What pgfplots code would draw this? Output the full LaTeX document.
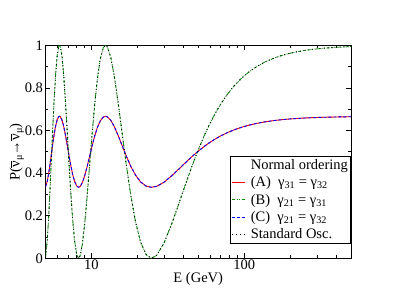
\documentclass[border=0pt]{standalone}
\usepackage{fontspec}
\setmainfont{Liberation Serif}
\usepackage{pgfplots}
\usepackage{pgfplotstable}
\pgfplotsset{compat=1.18}
\definecolor{cgreen}{RGB}{0,150,0}
\pgfplotstableread{
E P D
5.000 0.0088 0.3363
5.026 0.0179 0.3393
5.139 0.0896 0.3632
5.243 0.1924 0.3975
5.352 0.3225 0.4408
5.465 0.4686 0.4895
5.583 0.6175 0.5392
5.706 0.7559 0.5853
5.835 0.8714 0.6238
5.969 0.9538 0.6513
6.110 0.9955 0.6652
6.175 1.0000 0.6667
6.258 0.9931 0.6644
6.413 0.9466 0.6489
6.576 0.8602 0.6201
6.748 0.7416 0.5805
6.929 0.6015 0.5338
7.119 0.4523 0.4841
7.321 0.3073 0.4358
7.534 0.1796 0.3932
7.760 0.0805 0.3602
8.000 0.0188 0.3396
8.234 0.0000 0.3333
8.435 0.0126 0.3375
8.719 0.0673 0.3558
9.023 0.1607 0.3869
9.349 0.2843 0.4281
9.700 0.4272 0.4757
10.078 0.5767 0.5256
10.486 0.7193 0.5731
10.930 0.8423 0.6141
11.412 0.9347 0.6449
11.938 0.9883 0.6628
12.350 1.0000 0.6667
12.721 0.9916 0.6639
13.379 0.9427 0.6476
14.109 0.8543 0.6181
14.923 0.7342 0.5781
15.837 0.5932 0.5311
16.870 0.4439 0.4813
18.047 0.2996 0.4332
19.400 0.1732 0.3911
20.973 0.0759 0.3586
22.824 0.0166 0.3389
24.701 0.0000 0.3333
26.759 0.0145 0.3382
29.846 0.0716 0.3572
33.739 0.1669 0.3890
38.800 0.2919 0.4306
41.946 0.3622 0.4541
45.647 0.4356 0.4785
50.065 0.5104 0.5035
55.429 0.5850 0.5283
59.692 0.6337 0.5446
64.667 0.6812 0.5604
70.545 0.7268 0.5756
77.600 0.7702 0.5901
86.222 0.8108 0.6036
97.000 0.8484 0.6161
107.78 0.8759 0.6253
121.25 0.9011 0.6337
136.14 0.9209 0.6403
155.20 0.9388 0.6463
172.44 0.9502 0.6501
194.00 0.9605 0.6535
215.56 0.9679 0.6560
242.50 0.9746 0.6582
277.14 0.9805 0.6602
323.33 0.9857 0.6619
388.00 0.9900 0.6633
500.00 0.9940 0.6647
}\data
\newcommand{\nubar}{$\overline{\hbox{ν}}$}
\begin{document}
\begin{tikzpicture}
\path[use as bounding box] (0,0) rectangle (395pt,305pt);
\begin{axis}[
  at={(45.5pt,46.7pt)}, anchor=south west,
  scale only axis, width=305.5pt, height=213pt,
  xmode=log, xmin=5, xmax=500, ymin=0, ymax=1,
  axis line style={line width=0.7pt},
  tick align=inside, tick style={black, line width=0.6pt},
  major tick length=5pt, minor tick length=3pt,
  xtick={10,100}, xticklabels={10,100},
  minor xtick={5,6,7,8,9,20,30,40,50,60,70,80,90,200,300,400,500},
  ytick={0,0.2,0.4,0.6,0.8,1}, yticklabels={0,0.2,0.4,0.6,0.8,1},
  minor ytick={0.1,0.3,0.5,0.7,0.9},
  /pgf/number format/assume math mode=true,
  tick label style={font=\fontsize{14.5}{16}\selectfont},
  xticklabel style={yshift=1.5pt},
  yticklabel style={xshift=1pt},
  label style={font=\fontsize{14.5}{16}\selectfont},
  xlabel={E (GeV)},
  ylabel={P(\nubar\textsubscript{μ}→\nubar\textsubscript{μ})},
  ylabel style={yshift=-6pt},
  xlabel style={yshift=5pt},
  legend style={at={(1,0.07)}, anchor=south east, line width=0.6pt,
    font=\fontsize{14.5}{15.5}\selectfont, row sep=3.2pt, inner sep=1.5pt,
    nodes={inner sep=1.3pt},
    /tikz/every odd column/.append style={column sep=4pt}},
  legend cell align=left,
  legend image code/.code={\draw[#1] (0pt,0pt) -- (13pt,0pt);},
]
\addlegendimage{empty legend}
\addlegendentry{Normal ordering}
\addplot[color=red, draw=red, line width=0.9pt] table[x=E, y=D] {\data};
\addlegendentry{(A)\ \ γ\textsubscript{31} = γ\textsubscript{32}}
\addplot[color=cgreen, draw=cgreen, line width=0.9pt, dash pattern=on 3pt off 1.5pt on 1pt off 1.5pt on 1pt off 1.5pt] table[x=E, y=P] {\data};
\addlegendentry{(B)\ \ γ\textsubscript{21} = γ\textsubscript{31}}
\addplot[color=blue, draw=blue, line width=0.9pt, dash pattern=on 3pt off 2pt] table[x=E, y=D] {\data};
\addlegendentry{(C)\ \ γ\textsubscript{21} = γ\textsubscript{32}}
\addplot[color=black, draw=black, line width=0.9pt, dash pattern=on 1pt off 3pt] table[x=E, y=P] {\data};
\addlegendentry{Standard Osc.}
\end{axis}
\end{tikzpicture}
\end{document}
